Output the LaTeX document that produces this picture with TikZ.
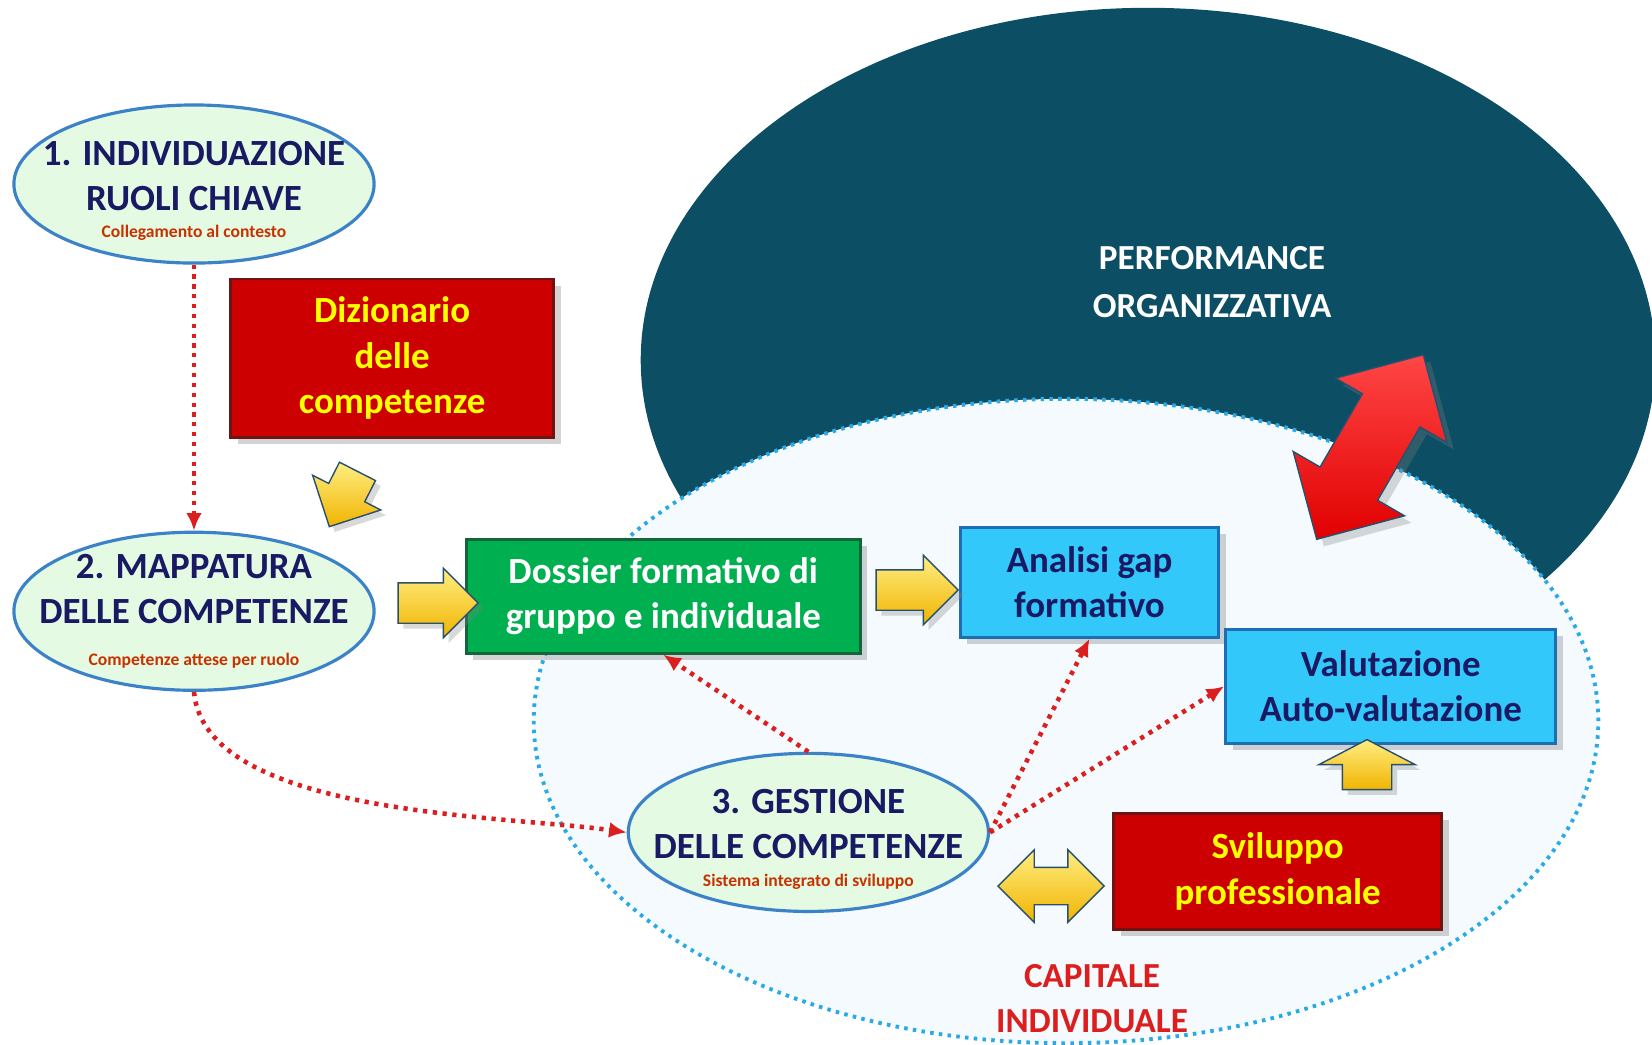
\documentclass[tikz,border=0pt]{standalone}
\usepackage{fontspec}
\setmainfont{Carlito}
\usetikzlibrary{positioning,shapes.geometric,shapes.arrows,shadows,arrows.meta}

\definecolor{perfblue}{RGB}{12,78,100}
\definecolor{capfill}{RGB}{244,250,253}
\definecolor{capline}{RGB}{40,170,230}
\definecolor{rolefill}{RGB}{228,250,226}
\definecolor{roleline}{RGB}{60,130,200}
\definecolor{navy}{RGB}{25,25,100}
\definecolor{notered}{RGB}{200,50,0}
\definecolor{boxred}{RGB}{204,0,0}
\definecolor{redline}{RGB}{110,20,20}
\definecolor{boxyellow}{RGB}{255,255,0}
\definecolor{boxgreen}{RGB}{0,176,80}
\definecolor{greenline}{RGB}{20,100,60}
\definecolor{boxcyan}{RGB}{50,200,250}
\definecolor{cyanline}{RGB}{30,110,180}
\definecolor{linkred}{RGB}{220,30,30}
\definecolor{yellight}{RGB}{255,238,130}
\definecolor{yeldark}{RGB}{240,180,0}
\definecolor{arrowline}{RGB}{40,80,110}

\newcommand{\nota}[1]{{\fontsize{5}{6}\selectfont\color{notered}#1}}

\begin{document}
\begin{tikzpicture}[x=0.01cm,y=-0.01cm,on grid,>={Latex[length=5pt,width=4.5pt]},
   role/.style={ellipse,draw=roleline,line width=0.9pt,fill=rolefill,
      minimum width=3.6cm,minimum height=1.58cm,inner sep=0pt},
   roletext/.style={align=center,text=navy,font=\bfseries\fontsize{10.5}{12.8}\selectfont},
   box/.style={rectangle,line width=0.8pt,align=center,
      font=\bfseries\fontsize{10.5}{13}\selectfont,
      drop shadow={opacity=0.35,shadow xshift=2pt,shadow yshift=-2pt}},
   redbox/.style={box,draw=redline,fill=boxred,text=boxyellow},
   greenbox/.style={box,draw=greenline,fill=boxgreen,text=white},
   cyanbox/.style={box,draw=cyanline,fill=boxcyan,text=navy},
   yarrow/.style={single arrow,draw=arrowline,line width=0.4pt,
      top color=yellight,bottom color=yeldark,inner xsep=0pt,inner ysep=0.195cm,
      drop shadow={opacity=0.3,shadow xshift=1.5pt,shadow yshift=-1.5pt}},
   ydouble/.style={double arrow,draw=arrowline,line width=0.4pt,
      top color=yellight,bottom color=yeldark,inner xsep=0pt,inner ysep=0.18cm,
      double arrow head extend=0.175cm,minimum height=1.06cm},
   reddouble/.style={double arrow,draw=arrowline,line width=0.4pt,
      top color={rgb,255:red,255;green,70;blue,70},bottom color={rgb,255:red,225;green,0;blue,0},
      inner xsep=0pt,inner ysep=0.325cm,double arrow head extend=0.31cm,minimum height=2.13cm,
      drop shadow={opacity=0.3,shadow xshift=2pt,shadow yshift=-2pt}},
   link/.style={color=linkred,line width=1.3pt,dash pattern=on 1.2pt off 1.6pt,->},
   perftext/.style={align=center,text=white,font=\bfseries\fontsize{10}{13.6}\selectfont},
   captext/.style={align=center,text=linkred,font=\bfseries\fontsize{10}{12.8}\selectfont}]

\useasboundingbox (0,0) rectangle (1652,1044);

% fondo
\fill[perfblue] (1148,360) ellipse [x radius=5.07cm,y radius=3.52cm];
\draw[capline,fill=capfill,line width=1.1pt,dash pattern=on 1pt off 1.5pt]
   (1066,721) ellipse [x radius=5.32cm,y radius=3.22cm];

\node[perftext] (performance) at (1212,282) {PERFORMANCE\\ORGANIZZATIVA};
\node[captext] (capitale) at (1092,999) {CAPITALE\\INDIVIDUALE};

% fasi
\node[role,label={[roletext,yshift=-2pt]center:{1. INDIVIDUAZIONE\\RUOLI CHIAVE\\[-5pt]\nota{Collegamento al contesto}}}]
   (ruoli) at (194,184) {};
\node[role,label={[roletext]center:{2. MAPPATURA\\DELLE COMPETENZE\\[-1pt]\nota{Competenze attese per ruolo}}}]
   (mappatura) [below=4.27cm of ruoli] {};
\node[role,label={[roletext,yshift=-2pt]center:{3. GESTIONE\\DELLE COMPETENZE\\[-5pt]\nota{Sistema integrato di sviluppo}}}]
   (gestione) [below right=2.21cm and 6.14cm of mappatura] {};

% riquadri
\node[redbox,minimum width=3.23cm,minimum height=1.58cm] (dizionario)
   [below right=1.74cm and 1.98cm of ruoli] {Dizionario\\delle\\competenze};
\node[greenbox,minimum width=3.94cm,minimum height=1.14cm] (dossier)
   [above right=0.15cm and 4.69cm of mappatura] {Dossier formativo di\\gruppo e individuale};
\node[cyanbox,minimum width=2.58cm,minimum height=1.1cm] (analisi)
   [above right=0.14cm and 4.26cm of dossier] {Analisi gap\\formativo};
\node[cyanbox,minimum width=3.3cm,minimum height=1.14cm] (valutazione)
   [below right=1.04cm and 3.01cm of analisi] {Valutazione\\Auto-valutazione};
\node[redbox,minimum width=3.28cm,minimum height=1.16cm] (sviluppo)
   [below left=1.85cm and 1.13cm of valutazione] {Sviluppo\\professionale};

% frecce gialle
\node[yarrow,minimum height=0.8cm,single arrow head extend=0.145cm] (a-dossier) at (428,603) {};
\node[yarrow,minimum height=0.82cm,single arrow head extend=0.145cm] (a-analisi) at (907,590) {};
\node[yarrow,minimum height=0.62cm,single arrow head extend=0.18cm,rotate=243] (a-dizionario) at (348,490) {};
\node[yarrow,minimum height=0.5cm,inner ysep=0.24cm,single arrow head extend=0.235cm,
   single arrow tip angle=125,rotate=90] (a-valutazione) at (1367,771) {};
\node[ydouble] (a-sviluppo) at (1051,886) {};
\node[reddouble,rotate=60] (a-performance) at (1370,447) {};

% collegamenti
\path[link] (ruoli) edge (mappatura)
   (mappatura.south) edge[out=-85,in=172,looseness=0.7] (gestione.west)
   (gestione.north) edge (dossier.south)
   (gestione.east) edge (analisi.south)
   (gestione.east) edge (valutazione.west);
\end{tikzpicture}
\end{document}
